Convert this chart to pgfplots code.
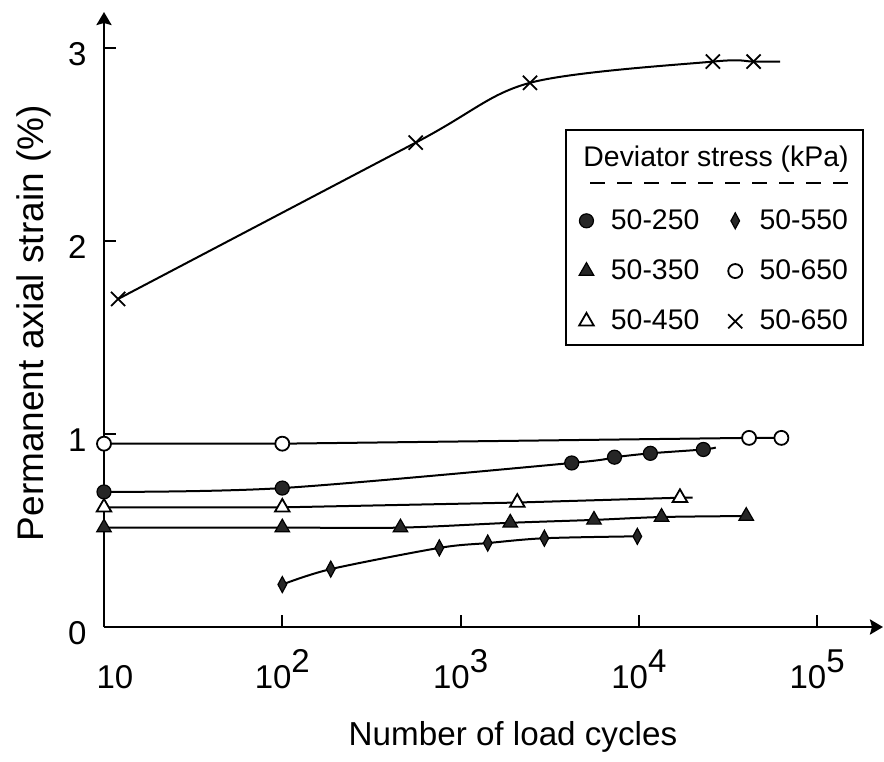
\documentclass[border=0pt]{standalone}
\usepackage{fontspec}
\setmainfont{Liberation Sans}
\usepackage{pgfplots}
\pgfplotsset{compat=1.18}
\usetikzlibrary{arrows.meta}

\pgfplotstableread{
x y
12 1.70
560 2.51
2450 2.82
26000 2.93
44000 2.93
}\crossdata
\pgfplotstableread{
x y
10 0.95
100 0.95
41500 0.98
63000 0.98
}\ocircdata
\pgfplotstableread{
x y
10 0.70
100 0.72
4200 0.85
7300 0.88
11600 0.90
23000 0.92
}\fcircdata
\pgfplotstableread{
x y
10 0.62
100 0.62
2080 0.645
17000 0.67
}\otridata
\pgfplotstableread{
x y
10 0.515
100 0.515
460 0.515
1900 0.54
5600 0.555
13400 0.57
40000 0.575
}\ftridata
\pgfplotstableread{
x y
100 0.22
187 0.30
760 0.41
1420 0.435
2950 0.46
9800 0.47
}\diadata

\begin{document}
\begin{tikzpicture}
\path[use as bounding box] (-52pt,-67pt) rectangle (390pt,313.5pt);
\begin{axis}[
  at={(0,0)}, anchor=south west,
  scale only axis, width=389.5pt, height=307.5pt,
  xmode=log, xmin=10, xmax=234000, ymin=0, ymax=3.187,
  clip=false,
  axis lines=left,
  axis line style={line width=1.3pt, black, -{Stealth[length=6.5pt,width=7.5pt,inset=1pt]}},
  xtick={10,100,1000,10000,100000},
  xticklabels={\hspace*{11pt}10, 10\raisebox{8pt}{2}, 10\raisebox{8pt}{3}, 10\raisebox{8pt}{4}, 10\raisebox{8pt}{5}},
  ytick={0,1,2,3}, yticklabels={0,1,2,3},
  xminorticks=false, yminorticks=false,
  major tick length=6pt, tick style={line width=1pt, black},
  tick align=inside,
  xticklabel style={inner sep=0pt, anchor=base, yshift=-30.5pt, font=\fontsize{16.5}{19}\selectfont},
  yticklabel style={inner sep=0pt, anchor=east, xshift=-8.5pt, yshift=-3pt, font=\fontsize{16.5}{19}\selectfont},
  xlabel={Number of load cycles},
  ylabel={Permanent axial strain (\%)},
  xlabel style={at={(axis description cs:0.525,-0.1919)}, anchor=base, inner sep=0pt, font=\fontsize{16.6}{20}\selectfont},
  ylabel style={at={(axis description cs:-0.0783,0.494)}, rotate=0, anchor=base, inner sep=0pt, font=\fontsize{18.5}{21}\selectfont},
  legend columns=2,
  legend cell align=left,
  legend style={draw=none, fill=none, inner sep=0pt, outer sep=0pt,
    at={(axis description cs:0.610,0.679)}, anchor=north west,
    font=\fontsize{14.2}{17}\selectfont, row sep=13.7pt,
    nodes={inner sep=0pt},
    /tikz/every odd column/.append style={column sep=8.6pt},
    /tikz/every even column/.append style={column sep=14.4pt}},
  legend image code/.code={\draw[#1,only marks] plot coordinates {(0pt,0pt)};},
]
% lines
\addplot[black, line width=1pt, smooth, forget plot] coordinates {(12,1.70) (560,2.51) (2450,2.82) (26000,2.93) (44000,2.93) (62000,2.93)};
\addplot[black, line width=1pt, forget plot] coordinates {(10,0.95) (100,0.95) (41500,0.98) (63000,0.98)};
\addplot[black, line width=1pt, smooth, forget plot] coordinates {(10,0.70) (100,0.72) (4200,0.85) (7300,0.88) (11600,0.90) (23000,0.92) (27000,0.93)};
\addplot[black, line width=1pt, forget plot] coordinates {(10,0.62) (100,0.62) (2080,0.645) (17000,0.67) (20000,0.67)};
\addplot[black, line width=1pt, smooth, forget plot] table {\ftridata};
\addplot[black, line width=1pt, smooth, forget plot] table {\diadata};
% marks (legend order)
\addplot[only marks, mark=*, mark size=3.5pt, mark options={draw=black, fill=black!85, line width=0.6pt}] table {\fcircdata};
\addlegendentry{50-250}
\addplot[only marks, mark=diamond*, mark size=4pt, mark options={xscale=0.72, draw=black, fill=black!85, line width=0.6pt}] table {\diadata};
\addlegendentry{50-550}
\addplot[only marks, mark=triangle*, mark size=4.2pt, mark options={draw=black, fill=black!85, line width=0.6pt}] table {\ftridata};
\addlegendentry{50-350}
\addplot[only marks, mark=*, mark size=3.5pt, mark options={draw=black, fill=white, line width=0.9pt}] table {\ocircdata};
\addlegendentry{50-650}
\addplot[only marks, mark=triangle*, mark size=4.2pt, mark options={draw=black, fill=white, line width=0.9pt}] table {\otridata};
\addlegendentry{50-450}
\addplot[only marks, mark=x, mark size=5pt, mark options={draw=black, line width=0.9pt}] table {\crossdata};
\addlegendentry{50-650}
% legend frame and title
\draw[line width=0.9pt, black] (rel axis cs:0.593,0.4585) rectangle (rel axis cs:0.974,0.808);
\node[anchor=base west, inner sep=0pt, font=\fontsize{14.2}{17}\selectfont] at (rel axis cs:0.615,0.748) {Deviator stress (kPa)};
\draw[line width=1pt, dash pattern=on 7.5pt off 6pt] (rel axis cs:0.624,0.722) -- (rel axis cs:0.955,0.722);
\end{axis}
\end{tikzpicture}
\end{document}
